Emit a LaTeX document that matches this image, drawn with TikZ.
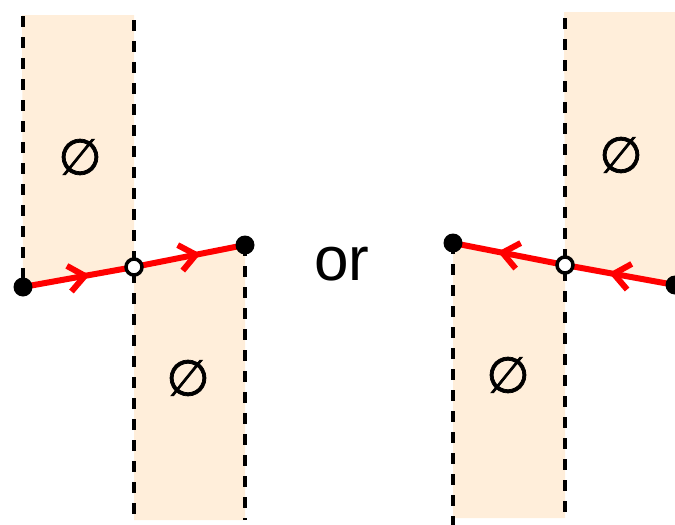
\documentclass[tikz,border=0pt]{standalone}
\usepackage{fontspec}
\setmainfont{Liberation Sans}
\newfontfamily\djv[FakeBold=1.5]{DejaVu Sans}
\usetikzlibrary{arrows.meta,decorations.markings}
\definecolor{peach}{RGB}{255,238,218}
\begin{document}
\begin{tikzpicture}[x=1pt,y=-1pt,
  region/.style={fill=peach,draw=none},
  border/.style={line width=3.5pt,dash pattern=on 11pt off 10pt},
  redline/.style={draw=red,line width=6pt,
    postaction={decorate,decoration={markings,
      mark=at position 0.6 with {\arrow[red,line width=6pt]{Straight Barb[length=16pt,width=26pt]}}}}},
  fulldot/.style={circle,fill=black,inner sep=0pt,minimum size=19pt},
  opendot/.style={circle,fill=white,draw=black,line width=3.5pt,inner sep=0pt,minimum size=16pt},
  emptyset/.style={font=\djv\fontsize{50}{50}\selectfont,inner sep=0pt},
  conj/.style={font=\fontsize{62}{62}\selectfont,inner sep=0pt,anchor=base}]
\useasboundingbox (0,0) rectangle (675,525);
% anchor points
\coordinate (b1) at (23,287);
\coordinate (w1) at (134,267);
\coordinate (b2) at (245,245);
\coordinate (b3) at (453,243);
\coordinate (w2) at (565,265);
\coordinate (b4) at (675,285);
% regions
\fill[region] (22,15) -- (134,15) -- (w1) -- (b1) -- cycle;
\fill[region] (w1) -- (b2) -- (245,520) -- (134,520) -- cycle;
\fill[region] (564,12) -- (675,12) -- (b4) -- (w2) -- cycle;
\fill[region] (b3) -- (w2) -- (565,518) -- (453,518) -- cycle;
% boundaries
\coordinate (t1) at (23,16);
\coordinate (t2) at (134,20);
\coordinate (u2) at (134,520);
\coordinate (u3) at (245,520);
\coordinate (u4) at (453,525);
\coordinate (t5) at (565,18);
\coordinate (u5) at (565,518);
\draw[border] (t1) -- (b1);
\draw[border] (t2) -- (u2);
\draw[border] (b2) -- (u3);
\draw[border] (b3) -- (u4);
\draw[border] (t5) -- (u5);
% paths
\draw[redline] (b1) -- (w1);
\draw[redline] (w1) -- (b2);
\draw[redline] (b4) -- (w2);
\draw[redline] (w2) -- (b3);
% dots
\node[fulldot] (d1) at (b1) {};
\node[opendot] (d2) at (w1) {};
\node[fulldot] (d3) at (b2) {};
\node[fulldot] (d4) at (b3) {};
\node[opendot] (d5) at (w2) {};
\node[fulldot] (d6) at (b4) {};
% labels
\node[emptyset] (e1) at (80,157) {∅};
\node[emptyset] (e2) at (188,378) {∅};
\node[emptyset] (e3) at (621,155) {∅};
\node[emptyset] (e4) at (508,375) {∅};
\node[conj] (or) at (342,280) {or};
\end{tikzpicture}
\end{document}
